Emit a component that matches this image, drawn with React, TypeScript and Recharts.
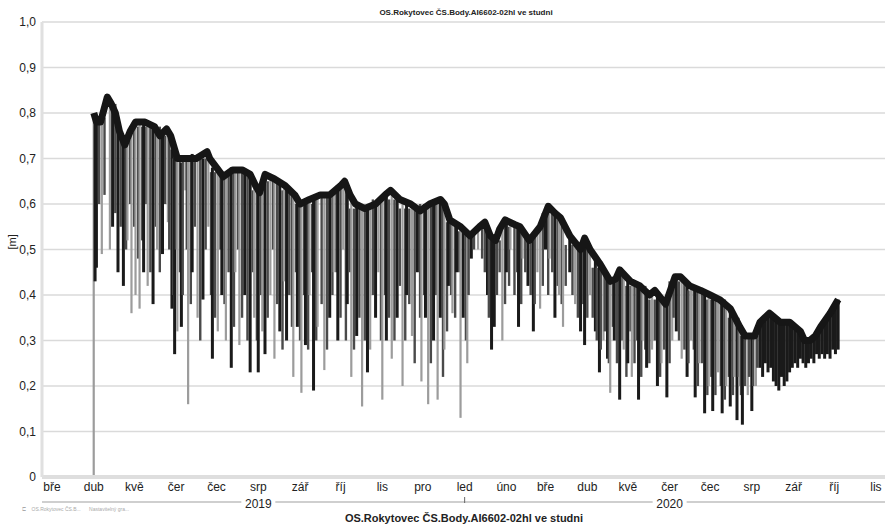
import React from "react";
import { ComposedChart, Line, Bar, XAxis, YAxis, CartesianGrid } from "recharts";

// day 0 = 1 Mar 2019
const monthTicks = [0, 31, 61, 92, 122, 153, 184, 214, 245, 275, 306, 337, 366, 397, 427, 458, 488, 519, 550, 580, 611];
const monthLabels = ["bře", "dub", "kvě", "čer", "čec", "srp", "zář", "říj", "lis", "pro", "led", "úno", "bře", "dub", "kvě", "čer", "čec", "srp", "zář", "říj", "lis"];
const yearTicks = [153, 306, 458];
const yearLabels = ["2019", "", "2020"];
const yTicks = [0, 0.1, 0.2, 0.3, 0.4, 0.5, 0.6, 0.7, 0.8, 0.9, 1.0];

const envDay = [31, 33, 36, 41, 44, 47, 50, 54, 58, 62, 69, 76, 80, 85, 88, 93, 99, 107, 115, 117, 127, 134, 141, 147, 151, 154, 158, 165, 173, 180, 184, 191, 199, 206, 214, 217, 221, 225, 232, 240, 247, 251, 258, 266, 273, 280, 288, 291, 295, 303, 310, 317, 321, 325, 329, 332, 336, 343, 347, 354, 362, 368, 373, 377, 384, 392, 395, 399, 406, 414, 418, 421, 429, 436, 443, 447, 455, 462, 466, 473, 481, 488, 495, 503, 510, 514, 521, 525, 532, 540, 547, 555, 558, 562, 566, 570, 577, 581, 583];
const envLevel = [0.8, 0.78, 0.78, 0.835, 0.82, 0.8, 0.76, 0.73, 0.76, 0.78, 0.78, 0.77, 0.75, 0.765, 0.75, 0.7, 0.7, 0.7, 0.715, 0.7, 0.66, 0.675, 0.675, 0.665, 0.64, 0.625, 0.665, 0.655, 0.64, 0.62, 0.6, 0.61, 0.62, 0.62, 0.64, 0.65, 0.62, 0.6, 0.59, 0.6, 0.62, 0.63, 0.61, 0.6, 0.585, 0.6, 0.61, 0.6, 0.565, 0.55, 0.53, 0.55, 0.56, 0.53, 0.52, 0.545, 0.565, 0.555, 0.55, 0.52, 0.55, 0.595, 0.58, 0.57, 0.53, 0.5, 0.525, 0.5, 0.47, 0.43, 0.435, 0.455, 0.43, 0.42, 0.4, 0.41, 0.38, 0.44, 0.44, 0.42, 0.41, 0.4, 0.39, 0.37, 0.33, 0.31, 0.31, 0.34, 0.36, 0.34, 0.34, 0.32, 0.3, 0.3, 0.31, 0.33, 0.36, 0.38, 0.39];

const darkDipDay = [32, 33, 45, 49, 53, 68, 75, 82, 89, 91, 96, 104, 112, 119, 126, 133, 143, 147, 153, 158, 169, 174, 182, 188, 194, 206, 212, 219, 226, 234, 240, 248, 256, 263, 271, 277, 283, 288, 294, 300, 305, 311, 323, 326, 328, 337, 346, 353, 357, 366, 373, 384, 392, 395, 403, 406, 412, 417, 421, 427, 435, 441, 449, 456, 463, 471, 477, 484, 490, 497, 503, 508, 512, 519, 525, 527, 529, 531, 533, 535, 537, 539, 541, 543, 545, 547, 549, 551, 553, 555, 557, 559, 561, 563, 565, 567, 569, 571, 573, 575, 577, 579, 581, 583];
const darkDipLow = [0.43, 0.46, 0.55, 0.45, 0.42, 0.45, 0.38, 0.49, 0.37, 0.27, 0.33, 0.45, 0.39, 0.26, 0.4, 0.24, 0.4, 0.23, 0.23, 0.27, 0.32, 0.3, 0.33, 0.29, 0.19, 0.35, 0.3, 0.38, 0.31, 0.23, 0.35, 0.3, 0.35, 0.4, 0.45, 0.35, 0.3, 0.35, 0.42, 0.45, 0.35, 0.48, 0.4, 0.28, 0.33, 0.45, 0.33, 0.42, 0.32, 0.5, 0.35, 0.45, 0.32, 0.29, 0.32, 0.23, 0.26, 0.3, 0.17, 0.25, 0.17, 0.24, 0.2, 0.175, 0.32, 0.22, 0.175, 0.14, 0.145, 0.14, 0.155, 0.125, 0.115, 0.145, 0.24, 0.22, 0.25, 0.23, 0.24, 0.21, 0.2, 0.19, 0.22, 0.2, 0.21, 0.23, 0.24, 0.25, 0.24, 0.26, 0.25, 0.24, 0.25, 0.26, 0.25, 0.27, 0.26, 0.27, 0.26, 0.27, 0.26, 0.28, 0.27, 0.28];
const darkDipTop = [0.79, 0.78, 0.81, 0.78, 0.74, 0.78, 0.77, 0.76, 0.72, 0.71, 0.69, 0.71, 0.7, 0.68, 0.66, 0.68, 0.67, 0.66, 0.64, 0.66, 0.65, 0.64, 0.61, 0.6, 0.61, 0.62, 0.64, 0.64, 0.6, 0.59, 0.6, 0.62, 0.62, 0.6, 0.59, 0.59, 0.6, 0.61, 0.58, 0.55, 0.54, 0.53, 0.55, 0.53, 0.52, 0.57, 0.555, 0.53, 0.53, 0.59, 0.58, 0.53, 0.5, 0.525, 0.49, 0.47, 0.44, 0.435, 0.455, 0.43, 0.42, 0.41, 0.41, 0.39, 0.44, 0.43, 0.42, 0.41, 0.4, 0.39, 0.37, 0.34, 0.32, 0.31, 0.34, 0.35, 0.35, 0.36, 0.36, 0.35, 0.35, 0.34, 0.34, 0.34, 0.34, 0.34, 0.33, 0.33, 0.33, 0.32, 0.31, 0.3, 0.3, 0.3, 0.31, 0.32, 0.33, 0.34, 0.35, 0.35, 0.36, 0.37, 0.38, 0.39];

const midDipDay = [35, 39, 47, 51, 55, 58, 61, 64, 67, 70, 73, 77, 80, 84, 87, 90, 92, 95, 97, 100, 103, 106, 110, 114, 118, 121, 125, 128, 131, 135, 138, 141, 145, 149, 152, 155, 160, 164, 167, 171, 176, 178, 181, 184, 187, 190, 193, 196, 200, 204, 208, 211, 214, 218, 221, 224, 228, 232, 238, 244, 247, 250, 254, 258, 262, 265, 269, 273, 276, 281, 285, 290, 293, 296, 299, 302, 307, 309, 313, 319, 321, 324, 330, 332, 336, 339, 343, 345, 348, 351, 355, 358, 364, 368, 371, 375, 378, 381, 386, 390, 394, 397, 401, 404, 407, 410, 413, 416, 419, 423, 426, 429, 432, 434, 437, 440, 443, 447, 451, 454, 458, 461, 465, 469, 472, 476, 479, 482, 486, 489, 492, 496, 499, 502, 505, 509, 511, 514, 517, 520, 523];
const midDipLow = [0.6, 0.62, 0.58, 0.55, 0.5, 0.6, 0.55, 0.48, 0.52, 0.6, 0.45, 0.55, 0.45, 0.6, 0.5, 0.4, 0.5, 0.45, 0.4, 0.5, 0.38, 0.55, 0.3, 0.5, 0.4, 0.35, 0.5, 0.38, 0.45, 0.33, 0.5, 0.35, 0.3, 0.45, 0.3, 0.4, 0.35, 0.5, 0.38, 0.28, 0.4, 0.33, 0.45, 0.3, 0.4, 0.28, 0.45, 0.3, 0.38, 0.28, 0.4, 0.45, 0.35, 0.3, 0.45, 0.28, 0.35, 0.3, 0.4, 0.3, 0.4, 0.35, 0.3, 0.42, 0.3, 0.38, 0.25, 0.35, 0.4, 0.25, 0.4, 0.22, 0.32, 0.4, 0.35, 0.45, 0.3, 0.4, 0.5, 0.48, 0.45, 0.35, 0.4, 0.45, 0.38, 0.42, 0.4, 0.45, 0.38, 0.45, 0.4, 0.38, 0.42, 0.4, 0.45, 0.42, 0.38, 0.42, 0.4, 0.35, 0.38, 0.35, 0.35, 0.3, 0.28, 0.32, 0.25, 0.33, 0.25, 0.3, 0.22, 0.32, 0.25, 0.3, 0.22, 0.28, 0.25, 0.3, 0.22, 0.28, 0.25, 0.35, 0.3, 0.28, 0.25, 0.28, 0.2, 0.25, 0.18, 0.22, 0.18, 0.2, 0.17, 0.22, 0.18, 0.22, 0.18, 0.2, 0.22, 0.2, 0.24];
const midDipTop = [0.79, 0.79, 0.82, 0.76, 0.74, 0.74, 0.77, 0.77, 0.77, 0.77, 0.77, 0.77, 0.77, 0.75, 0.75, 0.7, 0.7, 0.7, 0.7, 0.7, 0.7, 0.7, 0.7, 0.7, 0.67, 0.67, 0.67, 0.67, 0.67, 0.67, 0.67, 0.67, 0.67, 0.63, 0.63, 0.63, 0.65, 0.65, 0.65, 0.63, 0.63, 0.63, 0.6, 0.6, 0.6, 0.6, 0.6, 0.62, 0.62, 0.62, 0.62, 0.64, 0.64, 0.64, 0.59, 0.59, 0.59, 0.59, 0.61, 0.61, 0.61, 0.61, 0.61, 0.59, 0.59, 0.59, 0.59, 0.6, 0.6, 0.6, 0.6, 0.6, 0.56, 0.56, 0.56, 0.54, 0.54, 0.54, 0.54, 0.55, 0.55, 0.55, 0.52, 0.52, 0.55, 0.55, 0.55, 0.55, 0.55, 0.53, 0.53, 0.53, 0.58, 0.58, 0.58, 0.57, 0.57, 0.51, 0.51, 0.51, 0.51, 0.51, 0.46, 0.46, 0.46, 0.46, 0.44, 0.44, 0.44, 0.44, 0.42, 0.42, 0.42, 0.42, 0.42, 0.42, 0.39, 0.39, 0.39, 0.39, 0.43, 0.43, 0.43, 0.43, 0.41, 0.41, 0.41, 0.41, 0.39, 0.39, 0.39, 0.39, 0.39, 0.35, 0.35, 0.35, 0.31, 0.31, 0.31, 0.31, 0.31];

const greyDipDay = [31, 37, 43, 56, 59, 62, 65, 71, 78, 86, 93, 99, 101, 108, 116, 123, 129, 136, 139, 150, 156, 162, 165, 172, 179, 185, 191, 197, 202, 209, 216, 222, 230, 236, 242, 245, 252, 260, 267, 274, 279, 286, 291, 297, 303, 308, 316, 334, 340, 349, 360, 362, 369, 376, 379, 388, 399, 409, 414, 424, 430, 438, 445, 452, 460, 467, 474, 480, 487, 494, 500, 506, 510, 516, 522];
const greyDipLow = [0, 0.49, 0.5, 0.52, 0.36, 0.4, 0.37, 0.42, 0.5, 0.56, 0.32, 0.63, 0.16, 0.35, 0.55, 0.32, 0.3, 0.45, 0.29, 0.35, 0.32, 0.4, 0.26, 0.43, 0.22, 0.185, 0.4, 0.33, 0.235, 0.45, 0.5, 0.22, 0.155, 0.28, 0.45, 0.17, 0.26, 0.2, 0.31, 0.21, 0.16, 0.17, 0.28, 0.36, 0.13, 0.25, 0.5, 0.3, 0.5, 0.48, 0.45, 0.37, 0.48, 0.4, 0.33, 0.38, 0.4, 0.3, 0.185, 0.28, 0.22, 0.3, 0.28, 0.25, 0.3, 0.26, 0.3, 0.25, 0.2, 0.23, 0.2, 0.22, 0.2, 0.18, 0.2];
const greyDipTop = [0.8, 0.79, 0.82, 0.75, 0.77, 0.78, 0.78, 0.78, 0.76, 0.76, 0.7, 0.7, 0.7, 0.71, 0.7, 0.67, 0.67, 0.68, 0.68, 0.64, 0.66, 0.66, 0.655, 0.64, 0.62, 0.6, 0.61, 0.62, 0.62, 0.63, 0.65, 0.61, 0.59, 0.59, 0.6, 0.61, 0.63, 0.61, 0.6, 0.585, 0.6, 0.61, 0.6, 0.565, 0.55, 0.53, 0.55, 0.56, 0.56, 0.55, 0.54, 0.55, 0.6, 0.57, 0.56, 0.52, 0.5, 0.46, 0.43, 0.44, 0.43, 0.42, 0.4, 0.39, 0.43, 0.44, 0.42, 0.41, 0.4, 0.39, 0.38, 0.36, 0.33, 0.31, 0.32];

type Row = { day: number; env?: number; dip?: [number, number]; shade?: number };

const rows: Row[] = [
  ...envDay.map((d, i) => ({ day: d, env: envLevel[i] })),
  ...greyDipDay.map((d, i) => ({ day: d, dip: [greyDipLow[i], greyDipTop[i]] as [number, number], shade: 0 })),
  ...midDipDay.map((d, i) => ({ day: d, dip: [midDipLow[i], midDipTop[i]] as [number, number], shade: 1 })),
  ...darkDipDay.map((d, i) => ({ day: d, dip: [darkDipLow[i], darkDipTop[i]] as [number, number], shade: 2 })),
].sort((a, b) => a.day - b.day);

const shadeColors = ["#9c9c9c", "#4a4a4a", "#1a1a1a"];
const shadeWidths = [2.2, 2.4, 3];
const FONT = "'Liberation Sans', Arial, Helvetica, sans-serif";

const DipShape = (props: any) => {
  const { x, y, width, height, payload } = props;
  if (height == null || !isFinite(height)) return null;
  const s = payload?.shade ?? 0;
  const w = shadeWidths[s];
  const cx = x + width / 2;
  return <rect x={cx - w / 2} y={y} width={w} height={Math.max(height, 1)} fill={shadeColors[s]} />;
};

const YearTick = (props: any) => {
  const { x, y, payload } = props;
  const idx = yearTicks.indexOf(payload.value);
  const label = yearLabels[idx];
  if (!label) {
    return <line x1={x} x2={x} y1={y - 5} y2={y + 1} stroke="#666" strokeWidth={1} />;
  }
  return (
    <g>
      <rect x={x - 17} y={y - 6} width={34} height={13} fill="#fff" />
      <text x={x} y={y + 5.5} textAnchor="middle" fontSize={12} fill="#222" fontFamily={FONT}>
        {label}
      </text>
    </g>
  );
};

export default function App() {
  return (
    <div style={{ position: "absolute", left: 0, top: 0, width: 885, height: 528, background: "#fff", fontFamily: FONT }}>
      <ComposedChart width={885} height={528} data={rows} margin={{ top: 22, right: 0, bottom: 0, left: 0 }}>
        <CartesianGrid vertical={false} stroke="#dadada" strokeWidth={1.6} />
        <XAxis
          dataKey="day"
          type="number"
          domain={[-7.4, 617.7]}
          allowDataOverflow
          ticks={monthTicks}
          interval={0}
          tickFormatter={(v: number) => monthLabels[monthTicks.indexOf(v)]}
          height={25}
          tickSize={0}
          tickMargin={5}
          tickLine={false}
          axisLine={{ stroke: "#dedede", strokeWidth: 4 }}
          tick={{ fontSize: 12, fill: "#222", fontFamily: FONT }}
        />
        <XAxis
          xAxisId="yr"
          dataKey="day"
          type="number"
          domain={[-7.4, 617.7]}
          allowDataOverflow
          ticks={yearTicks}
          interval={0}
          height={26}
          tickSize={0}
          tickMargin={0}
          tickLine={false}
          axisLine={{ stroke: "#cfcfcf", strokeWidth: 2 }}
          tick={<YearTick />}
        />
        <YAxis
          type="number"
          domain={[0, 1]}
          ticks={yTicks}
          interval={0}
          width={42}
          tickSize={0}
          tickMargin={6}
          tickLine={false}
          axisLine={{ stroke: "#e0e0e0", strokeWidth: 3 }}
          tickFormatter={(v: number) => (v === 0 ? "0" : v.toFixed(1).replace(".", ","))}
          tick={{ fontSize: 12, fill: "#222", fontFamily: FONT }}
          label={{ value: "[m]", angle: -90, position: "insideLeft", offset: 12, style: { fontSize: 11, fill: "#222", fontFamily: FONT } }}
        />
        <Bar dataKey="dip" barSize={2} shape={<DipShape />} isAnimationActive={false} />
        <Line
          dataKey="env"
          type="linear"
          stroke="#161616"
          strokeWidth={7}
          strokeLinejoin="round"
          dot={false}
          connectNulls
          isAnimationActive={false}
        />
      </ComposedChart>
      <div style={{ position: "absolute", left: 316, top: 8, width: 300, textAlign: "center", fontSize: 8, fontWeight: "bold", color: "#222" }}>
        OS.Rokytovec ČS.Body.AI6602-02hl ve studni
      </div>
      <div style={{ position: "absolute", left: 214, top: 512, width: 500, textAlign: "center", fontSize: 11, fontWeight: "bold", color: "#222" }}>
        OS.Rokytovec ČS.Body.AI6602-02hl ve studni
      </div>
      <div style={{ position: "absolute", left: 22, top: 506, fontSize: 5, color: "#aaa", whiteSpace: "nowrap" }}>
        ⊏ &nbsp;&nbsp; OS.Rokytovec ČS.B... &nbsp;&nbsp;&nbsp;&nbsp; Nastavitelný gra...
      </div>
    </div>
  );
}
